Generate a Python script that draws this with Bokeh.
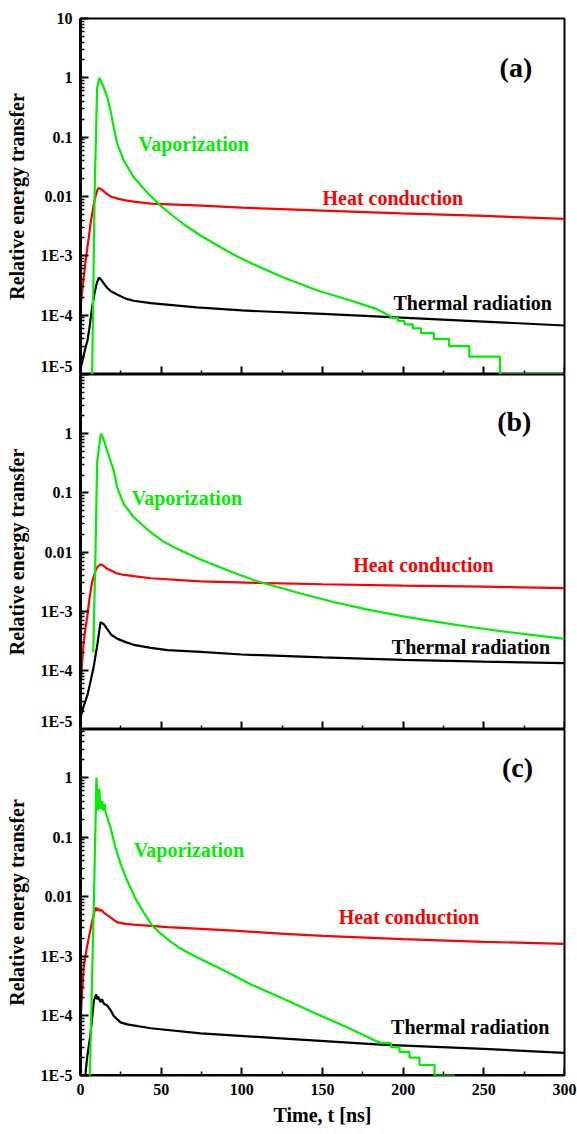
from bokeh.plotting import figure
from bokeh.models import Range1d, FixedTicker, CustomJSTickFormatter, Label, LinearAxis
from bokeh.layouts import column
from bokeh.embed import file_html
from bokeh.resources import INLINE

# ---------------- data ----------------
x_ticks = [0, 50, 100, 150, 200, 250, 300]
x_minor = [25, 75, 125, 175, 225, 275]
y_ticks = [1e-5, 1e-4, 1e-3, 1e-2, 1e-1, 1, 10]
y_tick_labels = ["1E-5", "1E-4", "1E-3", "0.01", "0.1", "1", "10"]

# Panel (a)
t_heat_a = [0, 1, 2, 3, 4.3, 5, 6.2, 7.2, 8.3, 9.5, 10.5, 11.4, 13, 14.5, 16.5, 19, 23, 28, 33, 43.5,
            75, 100, 150, 199, 250, 300]
heat_a = [1.35e-4, 2.5e-4, 4.3e-4, 7.5e-4, 1.4e-3, 1.9e-3, 3.5e-3, 5e-3, 7.6e-3, 1.05e-2, 1.3e-2, 1.4e-2,
          1.32e-2, 1.22e-2, 1.1e-2, 9.9e-3, 9.2e-3, 8.6e-3, 8.2e-3, 7.6e-3,
          7.0e-3, 6.5e-3, 5.8e-3, 5.2e-3, 4.7e-3, 4.2e-3]
t_rad_a = [0, 1, 2, 3, 4.3, 5.5, 7.2, 8.5, 10, 11.4, 13, 14.5, 16.5, 19, 23, 28, 33, 43.5, 72, 100,
           150, 199, 250, 300]
rad_a = [1.3e-5, 1.6e-5, 2.1e-5, 2.8e-5, 3.7e-5, 6e-5, 1.35e-4, 2.2e-4, 3.4e-4, 4.3e-4, 3.9e-4, 3.4e-4,
         2.9e-4, 2.5e-4, 2.2e-4, 1.9e-4, 1.75e-4, 1.6e-4, 1.35e-4, 1.2e-4,
         1.05e-4, 9.1e-5, 7.8e-5, 6.7e-5]
t_vap_a = [7.2, 8.8, 10.3, 11.8, 14.4, 16.6, 18.6, 20.6, 22.8, 26.8, 33.0, 41.3, 49.6, 55.8, 63.8,
           74.4, 84.9, 94.8, 105.4, 125.8, 146.9, 167.4, 182.9, 190, 192.5,
           192.5, 196.7, 196.7, 200.8, 200.8, 206, 206, 211, 211, 219, 219, 228.5, 228.5, 241, 241,
           260, 260, 300]
vap_a = [1e-5, 1.3e-2, 0.68, 1.0, 0.69, 0.47, 0.28, 0.146, 0.077, 0.0405, 0.0211, 0.0117, 7.0e-3,
         5.07e-3, 3.44e-3, 2.2e-3, 1.49e-3, 1.05e-3, 7.6e-4, 4.3e-4, 2.6e-4, 1.77e-4, 1.29e-4, 1.03e-4,
         9.5e-5,
         9e-5, 9e-5, 8e-5, 8e-5, 7e-5, 7e-5, 6e-5, 6e-5, 5e-5, 5e-5, 4e-5, 4e-5, 3e-5, 3e-5, 2e-5,
         2e-5, 1e-5, 1e-5]

# Panel (b)
t_heat_b = [0, 1, 2, 3, 4.3, 5.5, 7.2, 9, 10.5, 12.4, 14.5, 16.5, 18.6, 22, 25, 33, 43.5, 74.5, 109,
            150, 200, 250, 300]
heat_b = [5.2e-5, 1.4e-4, 3e-4, 5e-4, 8.5e-4, 1.6e-3, 3.1e-3, 4.6e-3, 5.6e-3, 6.2e-3, 5.8e-3, 5.2e-3,
          4.9e-3, 4.4e-3, 4.2e-3, 3.9e-3, 3.6e-3, 3.2e-3, 3.0e-3, 2.85e-3, 2.7e-3, 2.6e-3, 2.45e-3]
t_rad_b = [0, 2, 4.3, 6.2, 8.3, 10.5, 12.4, 14.5, 16.5, 19, 23, 28, 33, 43.5, 54, 74.5, 100, 150, 200,
           250, 300]
rad_b = [1.6e-5, 2.5e-5, 3.8e-5, 6.5e-5, 1.2e-4, 2.8e-4, 6.5e-4, 6.0e-4, 5e-4, 4e-4, 3.4e-4, 3e-4,
         2.7e-4, 2.4e-4, 2.2e-4, 2.05e-4, 1.85e-4, 1.65e-4, 1.5e-4, 1.4e-4, 1.32e-4]
t_vap_b = [7.9, 9.3, 10.3, 12.6, 14.0, 16.5, 20.6, 22.7, 26.8, 33.0, 43.4, 51.4, 59.9, 74.4, 93.0,
           109.5, 136.4, 156.8, 177.3, 198.3, 218.8, 239.7, 260.3, 280.8, 300]
vap_b = [2e-4, 1e-2, 0.33, 1.0, 0.85, 0.52, 0.238, 0.124, 0.065, 0.0387, 0.0216, 0.015, 0.0113, 7.46e-3,
         4.68e-3, 3.2e-3, 1.99e-3, 1.43e-3, 1.07e-3, 8.3e-4, 6.7e-4, 5.5e-4, 4.6e-4, 3.95e-4, 3.4e-4]

# Panel (c)
t_heat_c = [0, 1, 2, 3.5, 5.2, 7, 8.3, 9.3, 10.3, 11, 12, 13, 14.5, 16.5, 18.6, 21, 23, 28, 33, 54,
            95, 124, 150, 200, 250, 300]
heat_c = [7.8e-5, 2.5e-4, 6.5e-4, 1.2e-3, 2.1e-3, 3.6e-3, 5.2e-3, 6.6e-3, 5.9e-3, 6.4e-3, 5.8e-3,
          6.0e-3, 5.4e-3, 4.9e-3, 4.5e-3, 4.0e-3, 3.7e-3, 3.5e-3, 3.4e-3, 3.1e-3,
          2.7e-3, 2.4e-3, 2.2e-3, 1.95e-3, 1.75e-3, 1.62e-3]
t_rad_c = [0, 3, 4.1, 6.2, 8.3, 9.7, 10.3, 11, 12.4, 13.3, 14.5, 16.5, 18.6, 20.6, 24.8, 29, 43.5,
           74.5, 124, 186, 250, 300]
rad_c = [1e-5, 1e-5, 2e-5, 5e-5, 1.8e-4, 2.3e-4, 1.9e-4, 2.1e-4, 1.7e-4, 1.9e-4, 1.6e-4, 1.5e-4,
         1.25e-4, 1.0e-4, 7.8e-5, 7.2e-5, 6.2e-5, 5.1e-5, 4.2e-5, 3.3e-5, 2.8e-5, 2.4e-5]
t_vap_c = [5.8, 8.3, 9.9, 10.8, 11.6, 12.4, 13.5, 13.9, 14.9, 15.5, 16.5, 18.6, 21.7, 24.8, 28.9, 34.1,
           39.2, 44.4, 49.6, 55.8, 62.0, 68.2, 74.4, 89.9, 105.4, 124, 144.4, 165.5, 184.1, 186.3,
           192.5, 192.5, 197.7, 197.7, 203.9, 203.9, 210.1, 210.1, 219.5, 219.5, 232]
vap_c = [1e-5, 8.7e-3, 1.0, 0.28, 0.65, 0.3, 0.4, 0.28, 0.36, 0.26, 0.22, 0.145, 0.067, 0.036, 0.0187,
         9.3e-3, 5.4e-3, 3.29e-3, 2.42e-3, 1.77e-3, 1.35e-3, 1.09e-3, 9.0e-4, 5.6e-4, 3.4e-4, 2.04e-4,
         1.14e-4, 6.4e-5, 3.7e-5, 3.5e-5,
         3.5e-5, 3e-5, 3e-5, 2.5e-5, 2.5e-5, 2e-5, 2e-5, 1.5e-5, 1.5e-5, 1e-5, 1e-5]

# ---------------- styling ----------------
FONT = "Liberation Serif"
GREEN = "#00ee00"
RED = "#ff0000"
BLACK = "#000000"
LW = 2.2

y_minor = [m * 10.0 ** e for e in range(-5, 1) for m in range(2, 10)]
x_range = Range1d(0, 300)


def style_axis(ax):
    ax.axis_line_width = 3
    ax.major_tick_in = 8
    ax.major_tick_out = 0
    ax.minor_tick_in = 4
    ax.minor_tick_out = 0
    ax.major_tick_line_width = 2
    ax.minor_tick_line_width = 1.5
    ax.major_label_text_font = FONT
    ax.major_label_text_font_style = "bold"
    ax.major_label_text_font_size = "16px"
    ax.major_label_text_color = "black"
    ax.axis_label_text_font = FONT
    ax.axis_label_text_font_style = "bold"
    ax.axis_label_text_font_size = "20px"
    ax.axis_label_text_color = "black"


def make_panel(ymax, frame_h, top, labels, last, series, notes):
    p = figure(frame_width=484, frame_height=frame_h, x_range=x_range,
               y_range=Range1d(1e-5, ymax), y_axis_type="log",
               x_axis_location="below" if last else None,
               output_backend="svg", toolbar_location=None,
               min_border_left=80, min_border_right=13,
               min_border_top=top, min_border_bottom=0)
    p.xgrid.visible = False
    p.ygrid.visible = False
    p.outline_line_color = "black"
    p.outline_line_width = 2
    p.background_fill_color = "white"
    p.border_fill_color = "white"

    ya = p.yaxis[0]
    style_axis(ya)
    ya.ticker = FixedTicker(ticks=y_ticks, minor_ticks=y_minor)
    ya.formatter = CustomJSTickFormatter(
        args=dict(labels=labels),
        code="const i = Math.round(Math.log10(tick)) + 5; return labels[i];")
    ya.major_label_standoff = 8
    ya.axis_label = "Relative energy transfer"
    ya.axis_label_standoff = 10

    if last:
        # labels / title axis (drawn above glyphs, no line or ticks)
        xl = p.xaxis[0]
        style_axis(xl)
        xl.ticker = FixedTicker(ticks=x_ticks, minor_ticks=x_minor)
        xl.major_label_standoff = 8
        xl.axis_label = "Time, t [ns]"
        xl.axis_label_standoff = 6
        xl.axis_line_color = None
        xl.major_tick_line_color = None
        xl.minor_tick_line_color = None

    # line + inward ticks, drawn beneath the curves
    xa = LinearAxis(fixed_location=1e-5)
    p.add_layout(xa, "below")
    xa.formatter = CustomJSTickFormatter(code="return '';")
    style_axis(xa)
    xa.level = "underlay"
    xa.ticker = FixedTicker(ticks=x_ticks, minor_ticks=x_minor)

    for t, v, c in series:
        p.line(t, v, line_color=c, line_width=LW)

    for (x, y, txt, col, size, align) in notes:
        p.add_layout(Label(x=x, y=y, text=txt, text_color=col, text_font=FONT,
                           text_font_style="bold", text_font_size=size,
                           text_align=align, text_baseline="middle"))
    return p


pa = make_panel(10, 356, 18, y_tick_labels, False,
                [(t_rad_a, rad_a, BLACK), (t_heat_a, heat_a, RED), (t_vap_a, vap_a, GREEN)],
                [(36, 0.078, "Vaporization", GREEN, "20px", "left"),
                 (150, 0.0095, "Heat conduction", RED, "20px", "left"),
                 (194, 1.6e-4, "Thermal radiation", BLACK, "20px", "left"),
                 (280, 1.5, "(a)", BLACK, "28px", "right")])

pb = make_panel(10, 355, 0, y_tick_labels[:-1] + [""], False,
                [(t_rad_b, rad_b, BLACK), (t_heat_b, heat_b, RED), (t_vap_b, vap_b, GREEN)],
                [(31.7, 0.083, "Vaporization", GREEN, "20px", "left"),
                 (169, 6.0e-3, "Heat conduction", RED, "20px", "left"),
                 (193, 2.5e-4, "Thermal radiation", BLACK, "20px", "left"),
                 (279.5, 1.6, "(b)", BLACK, "28px", "right")])

pc = make_panel(6.4, 346, 0, y_tick_labels, True,
                [(t_rad_c, rad_c, BLACK), (t_heat_c, heat_c, RED), (t_vap_c, vap_c, GREEN)],
                [(33, 0.062, "Vaporization", GREEN, "20px", "left"),
                 (160, 4.5e-3, "Heat conduction", RED, "20px", "left"),
                 (192.5, 6.6e-5, "Thermal radiation", BLACK, "20px", "left"),
                 (280.5, 1.45, "(c)", BLACK, "28px", "right")])

layout = column(pa, pb, pc, spacing=0)

open("out.html", "w").write(file_html(layout, INLINE))
